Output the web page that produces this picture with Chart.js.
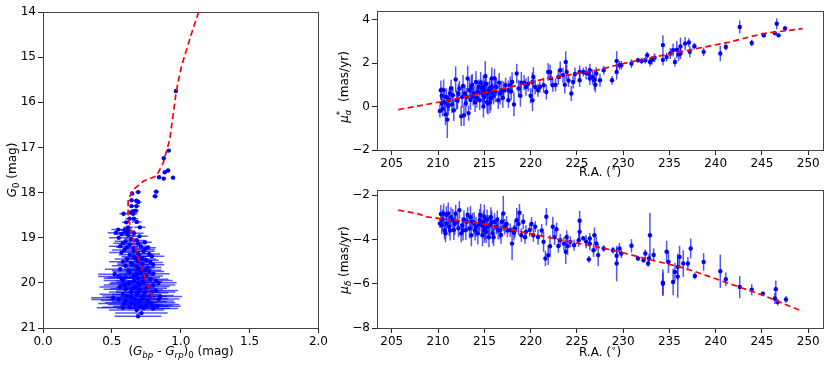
<!DOCTYPE html>
<html><head><meta charset="utf-8">
<script src="https://cdn.jsdelivr.net/npm/chart.js@4.4.1/dist/chart.umd.min.js"></script>
<style>
html,body{margin:0;padding:0;background:#fff;}
#wrap{position:relative;width:830px;height:369px;overflow:hidden;background:#fff;}
canvas{position:absolute;}
</style></head>
<body><div id="wrap">
<canvas id="c1" width="330" height="369" style="left:0;top:0"></canvas>
<canvas id="c2" width="500" height="185" style="left:330px;top:0"></canvas>
<canvas id="c3" width="500" height="189" style="left:330px;top:180px"></canvas>
</div>
<script>
// ---------- DATA ----------
// CMD: [colour (Gbp-Grp)0, G0, colour error]
const cmdStars = [
[0.965,15.75,0.01],[0.913,17.07,0.01],[0.877,17.24,0.01],[0.908,17.51,0.015],[0.884,17.55,0.01],[0.843,17.66,0.015],[0.877,17.69,0.01],[0.944,17.67,0.015],[0.822,17.98,0.02],[0.814,18.08,0.02],[0.647,18.02,0.015],[0.691,17.99,0.02],
[0.643,18.17,0.02],[0.679,18.18,0.02],[0.691,18.21,0.025],[0.643,18.30,0.02],[0.679,18.30,0.025],[0.655,18.41,0.025],[0.674,18.40,0.02],[0.64,18.44,0.03],[0.585,18.47,0.03],[0.655,18.47,0.03],[0.628,18.58,0.03],[0.66,18.58,0.03],[0.604,18.66,0.03],[0.681,18.65,0.035],[0.703,18.77,0.04],[0.618,18.77,0.035],[0.546,18.82,0.05],[0.594,18.83,0.04],[0.618,18.85,0.05],[0.53,18.89,0.06],[0.604,18.89,0.05],
[0.57,18.92,0.06],[0.62,18.95,0.05],[0.66,18.9,0.07],[0.7,18.97,0.06],[0.55,19.0,0.07],[0.64,19.03,0.05],[0.6,19.08,0.08],[0.68,19.06,0.06],[0.74,19.1,0.05],
[0.56,19.19,0.08],[0.71,19.19,0.07],[0.63,19.15,0.06],[0.66,19.24,0.07],[0.76,19.22,0.06],[0.59,19.27,0.09],[0.66,19.3,0.07],[0.73,19.3,0.08],[0.69,19.35,0.07],[0.63,19.38,0.08],[0.79,19.41,0.09],[0.7,19.41,0.08],
[0.61,19.47,0.09],[0.67,19.45,0.08],[0.75,19.5,0.09],[0.69,19.52,0.1],[0.64,19.56,0.1],[0.72,19.58,0.09],[0.8,19.6,0.08],[0.6,19.62,0.1],[0.68,19.64,0.11],[0.76,19.66,0.1],[0.56,19.7,0.11],[0.69,19.7,0.1],[0.74,19.72,0.12],
[0.63,19.76,0.12],[0.71,19.78,0.11],[0.8,19.8,0.12],[0.52,19.81,0.12],[0.66,19.83,0.13],[0.75,19.85,0.12],[0.55,19.86,0.15],[0.6,19.88,0.13],[0.69,19.9,0.12],[0.78,19.92,0.13],[0.58,19.95,0.14],[0.66,19.96,0.13],[0.73,19.98,0.14],[0.84,20.0,0.13],
[0.62,20.02,0.14],[0.7,20.04,0.15],[0.8,20.05,0.16],[0.56,20.09,0.15],[0.67,20.1,0.14],[0.75,20.12,0.15],[0.6,20.14,0.16],[0.7,20.16,0.17],[0.82,20.17,0.16],[0.64,20.2,0.16],[0.74,20.22,0.17],[0.58,20.25,0.17],[0.68,20.26,0.18],[0.78,20.28,0.17],
[0.51,20.33,0.16],[0.64,20.32,0.18],[0.72,20.35,0.19],[0.84,20.36,0.15],[0.6,20.39,0.18],[0.7,20.42,0.2],[0.78,20.44,0.18],[0.59,20.46,0.19],[0.67,20.48,0.2],[0.75,20.5,0.19],[0.83,20.52,0.17],[0.63,20.54,0.2],[0.73,20.56,0.19],[0.8,20.57,0.18],
[0.715,20.67,0.19],[0.69,20.74,0.17],
[0.58,19.12,0.07],[0.69,19.13,0.06],[0.61,19.21,0.08],[0.74,19.26,0.07],[0.57,19.33,0.09],[0.77,19.36,0.08],[0.66,19.42,0.09],[0.72,19.47,0.1],[0.58,19.53,0.1],[0.78,19.55,0.09],[0.65,19.6,0.11],[0.71,19.67,0.1],[0.62,19.73,0.12],[0.77,19.75,0.11],[0.68,19.8,0.13],[0.57,19.9,0.13],[0.73,19.88,0.12],[0.82,19.95,0.12],[0.63,19.99,0.14],[0.69,20.0,0.15],[0.76,20.08,0.16],[0.59,20.05,0.15],[0.65,20.13,0.16],[0.79,20.2,0.17],[0.69,20.21,0.16],[0.61,20.29,0.18],[0.73,20.3,0.17],[0.55,20.37,0.2],[0.67,20.37,0.19],[0.76,20.4,0.19],[0.64,20.44,0.19],[0.71,20.52,0.2],[0.58,20.55,0.19],[0.79,20.48,0.2],[0.68,20.6,0.2],[0.85,20.3,0.16]
];
// isochrone (red dashed)
const isoColor = [1.13,1.078,1.005,0.969,0.92,0.872,0.824,0.727,0.654,0.618,0.618,0.643,0.679,0.727,0.763,0.792];
const isoMag   = [14.0,14.48,15.21,15.73,16.83,17.35,17.63,17.75,17.94,18.16,18.53,18.89,19.33,19.77,20.07,20.31];

// proper motion in RA: [R.A., mu_alpha*, error]
const pmraStars = [
[210.2,-0.2,0.3],[210.3,0.75,0.45],[210.4,0.14,0.4],[210.6,0.75,0.5],[210.5,-0.1,0.35],[210.8,-0.36,0.5],[210.9,0.44,0.4],[211.0,-0.6,0.85],[211.1,0.05,0.45],[211.3,0.6,0.35],[211.4,0.83,0.4],[211.6,0.52,0.4],[211.7,-0.17,0.5],[211.9,1.25,0.6],[212.0,0.3,0.45],[212.1,0.29,0.4],[212.3,0.83,0.35],[212.5,-0.45,0.45],[212.6,0.44,0.5],[212.8,-0.4,0.5],[212.9,0.6,0.4],[213.0,0.14,0.45],[213.2,1.29,0.6],[213.3,-0.3,0.35],[213.4,0.75,0.5],[213.6,0.9,0.55],[213.8,0.45,0.4],[213.9,0.6,0.35],[214.0,0.2,0.45],[214.1,1.13,0.5],[214.3,0.67,0.45],[214.4,0.9,0.35],[214.5,0.29,0.45],[214.6,1.1,0.5],[214.7,0.83,0.4],[214.8,0.6,0.55],[214.9,0.0,0.5],[215.0,0.44,0.45],[215.1,1.4,0.7],[215.2,1.05,0.45],[215.3,0.2,0.5],[215.4,0.14,0.5],[215.5,0.75,0.4],[215.6,0.83,0.45],[215.7,0.38,0.55],[215.8,1.3,0.5],[215.9,0.67,0.4],[216.0,0.5,0.4],[216.1,1.29,0.45],[216.3,0.9,0.4],[216.5,0.29,0.4],[216.7,0.6,0.5],[216.9,0.75,0.45],[217.1,0.75,0.4],[217.3,0.98,0.35],[217.6,0.75,0.45],[217.6,0.29,0.35],[217.8,0.98,0.4],[218.0,1.13,0.45],[218.2,0.1,0.55],[218.5,1.52,0.45],[218.7,0.83,0.4],[219.0,1.1,0.5],[219.3,1.1,0.35],[219.75,1.05,0.35],[220.0,0.5,0.35],[220.2,1.13,0.45],[220.2,0.29,0.5],[220.3,1.36,0.45],[220.8,0.75,0.3],[221.0,0.9,0.25],[221.4,0.98,0.35],[221.7,0.67,0.35],[221.9,1.59,0.4],[222.1,1.59,0.35],[222.4,0.98,0.3],[222.7,1.0,0.3],[223.0,1.36,0.35],[223.2,1.67,0.4],[223.5,1.44,0.35],[223.8,2.05,0.5],[223.9,1.59,0.35],[224.1,1.2,0.3],[224.4,0.6,0.35],[224.6,1.13,0.3],[224.8,1.5,0.3],[225.3,1.59,0.3],[225.3,1.21,0.3],[225.7,1.59,0.2],[226.3,1.5,0.25],[226.4,1.67,0.3],[226.4,1.29,0.3],[226.7,1.36,0.35],[226.9,1.21,0.45],[227.0,1.0,0.35],[227.1,1.52,0.3],[227.5,1.21,0.3],[227.9,1.67,0.2],[228.8,1.21,0.2],[229.3,2.1,0.45],[229.3,1.59,0.35],[229.6,1.9,0.2],[229.8,1.9,0.2],[230.9,1.98,0.2],[231.6,2.13,0.1],[232.0,2.1,0.15],[232.4,2.13,0.15],[232.6,2.36,0.15],[232.9,2.05,0.2],[233.1,2.13,0.2],[233.4,2.25,0.2],[234.3,2.83,0.45],[234.3,2.15,0.25],[234.7,2.28,0.2],[235.1,2.44,0.25],[235.4,2.6,0.3],[235.6,2.05,0.2],[235.8,2.62,0.4],[236.0,2.4,0.3],[236.2,2.77,0.4],[236.2,2.44,0.25],[236.7,2.9,0.3],[237.1,2.95,0.2],[237.2,2.52,0.25],[237.7,2.78,0.15],[238.7,2.52,0.2],[240.5,2.44,0.35],[241.1,2.74,0.15],[242.6,3.66,0.3],[243.9,2.93,0.15],[245.2,3.28,0.1],[246.4,3.38,0.1],[246.6,3.81,0.25],[246.8,3.28,0.1],[247.5,3.6,0.12],
[210.4,0.5,0.4],[210.7,0.2,0.45],[211.2,0.3,0.5],[211.5,0.1,0.4],[212.2,0.6,0.45],[212.7,0.95,0.5],[213.1,0.45,0.4],[213.5,0.3,0.45],[213.7,1.0,0.5],[214.2,0.4,0.45],[214.9,0.9,0.5],[215.0,0.7,0.5],[215.3,0.6,0.45],[215.6,0.2,0.5],[215.8,0.9,0.4],[216.2,0.7,0.5],[216.6,1.1,0.45],[217.0,0.4,0.45],[217.9,0.7,0.4],[218.9,0.5,0.5],[219.5,0.9,0.4],[220.5,0.9,0.35],[222.2,1.3,0.35],[223.7,1.0,0.4],[226.0,1.55,0.3]
];
const pmraFitRA = [205.7,210.2,216.3,221.7,227.1,230.0,234.3,237.9,241.5,245.1,249.4];
const pmraFit   = [-0.14,0.21,0.75,1.29,1.67,1.98,2.36,2.67,2.97,3.36,3.59];

// proper motion in Dec: [R.A., mu_delta, error]
const pmdecStars = [
[210.2,-3.28,0.2],[210.3,-2.85,0.4],[210.4,-3.36,0.4],[210.6,-2.83,0.45],[210.7,-3.6,0.4],[210.8,-3.73,0.4],[210.9,-3.28,0.45],[211.1,-2.83,0.5],[211.2,-3.43,0.4],[211.4,-3.0,0.45],[211.6,-3.13,0.5],[211.7,-3.58,0.45],[211.9,-2.83,0.4],[212.1,-3.2,0.35],[212.3,-2.68,0.4],[212.5,-3.73,0.4],[212.6,-3.36,0.35],[212.8,-3.1,0.4],[213.0,-3.58,0.45],[213.2,-2.9,0.35],[213.4,-3.51,0.45],[213.6,-3.81,0.5],[213.7,-3.2,0.4],[213.9,-3.28,0.5],[214.1,-3.43,0.45],[214.3,-3.73,0.5],[214.5,-3.13,0.5],[214.6,-2.9,0.5],[214.7,-3.36,0.45],[214.8,-3.81,0.5],[215.0,-2.98,0.55],[215.1,-3.5,0.5],[215.2,-3.66,0.5],[215.3,-3.1,0.45],[215.5,-3.9,0.45],[215.6,-3.36,0.45],[215.8,-3.2,0.5],[215.9,-3.73,0.45],[216.1,-3.21,0.4],[216.3,-3.43,0.35],[216.5,-3.6,0.4],[216.7,-3.58,0.4],[216.9,-3.2,0.35],[217.05,-2.83,0.8],[217.2,-3.43,0.35],[217.5,-3.6,0.3],[217.8,-3.58,0.3],[218.0,-4.19,0.75],[218.3,-3.51,0.4],[218.5,-3.13,0.55],[218.8,-2.8,0.4],[219.0,-3.81,0.3],[219.2,-3.2,0.35],[219.5,-3.66,0.3],[219.9,-3.58,0.3],[220.3,-3.81,0.3],[220.5,-3.43,0.25],[220.8,-3.89,0.35],[221.2,-3.6,0.3],[221.4,-4.11,0.45],[221.6,-4.86,0.35],[221.7,-2.98,0.4],[221.9,-4.71,0.45],[222.1,-4.31,0.5],[222.4,-3.43,0.45],[222.8,-3.54,0.3],[223.0,-4.3,0.3],[223.2,-4.04,0.3],[223.6,-4.19,0.3],[223.8,-4.56,0.55],[223.9,-3.89,0.3],[224.3,-4.11,0.25],[224.7,-4.26,0.25],[225.2,-4.04,0.3],[225.3,-3.66,0.4],[225.3,-3.16,0.45],[225.7,-3.95,0.1],[226.3,-4.9,0.15],[226.4,-3.96,0.25],[226.4,-4.19,0.3],[226.8,-4.49,0.3],[226.9,-3.81,0.35],[227.1,-4.19,0.3],[227.3,-4.71,0.5],[227.9,-4.41,0.15],[228.9,-4.49,0.15],[229.3,-4.74,0.35],[229.3,-5.09,0.8],[229.6,-4.41,0.25],[229.8,-4.64,0.2],[230.9,-4.29,0.3],[231.6,-4.86,0.1],[232.2,-4.94,0.1],[232.4,-4.64,0.2],[232.7,-5.09,0.15],[232.8,-4.86,0.2],[232.9,-3.81,1.0],[233.3,-4.7,0.3],[234.3,-5.95,0.6],[234.3,-6.0,0.5],[234.7,-4.56,0.5],[234.9,-5.02,0.5],[235.4,-5.92,0.6],[235.6,-5.47,0.4],[235.9,-5.24,0.6],[235.9,-5.68,0.95],[236.1,-4.79,0.5],[236.5,-5.09,0.6],[237.0,-5.09,0.3],[237.3,-4.41,0.45],[237.75,-5.65,0.15],[238.7,-5.02,0.4],[240.5,-5.44,0.75],[241.1,-5.8,0.3],[242.6,-6.15,0.5],[243.9,-6.27,0.25],[245.1,-6.45,0.1],[246.4,-6.67,0.25],[246.5,-6.25,0.4],[246.7,-6.83,0.15],[247.6,-6.71,0.15],
[210.5,-3.1,0.45],[210.9,-2.9,0.4],[211.3,-3.6,0.45],[211.8,-3.3,0.5],[212.2,-3.5,0.4],[212.7,-3.6,0.45],[213.1,-3.2,0.4],[213.5,-3.0,0.5],[214.0,-3.6,0.45],[214.4,-3.3,0.5],[214.9,-3.2,0.5],[215.0,-3.6,0.55],[215.4,-3.4,0.5],[215.7,-3.0,0.45],[216.0,-3.9,0.4],[216.4,-3.1,0.4],[216.8,-3.8,0.4],[217.4,-3.3,0.35],[218.2,-3.7,0.35],[218.7,-3.3,0.5],[219.4,-3.9,0.3],[220.1,-3.3,0.3],[222.6,-3.9,0.35],[224.0,-4.3,0.4],[226.0,-4.1,0.3]
];
const pmdecFitRA = [205.7,207.7,208.8,210.2,214.5,218.1,221.7,225.3,228.9,232.5,236.1,237.9,241.5,245.1,249.4];
const pmdecFit   = [-2.68,-2.83,-2.98,-3.06,-3.28,-3.58,-3.89,-4.19,-4.49,-4.87,-5.24,-5.47,-6.0,-6.52,-7.25];

// tick values
const cmdColorTicks = [0,0.5,1.0,1.5,2.0];
const cmdMagTicks = [14,15,16,17,18,19,20,21];
const raTicks = [205,210,215,220,225,230,235,240,245,250];
const pmraTicks = [-2,0,2,4];
const pmdecTicks = [-8,-6,-4,-2];

// ---------- RENDERING ----------
const FONT = '"DejaVu Sans", "Liberation Sans", sans-serif';
const FS = 12;
const minus = v => (v < 0 ? '\u2212' + Math.abs(v) : String(v));

function richText(ctx, parts, cx, cy, rot) {
  const fontFor = p => (p.it ? 'italic ' : '') + ((p.sub || p.sup) ? FS * 0.72 : FS) + 'px ' + FONT;
  let w = 0;
  parts.forEach(p => { ctx.font = fontFor(p); p.w = ctx.measureText(p.t).width; if (!p.noadv) w += p.w; });
  ctx.save();
  ctx.translate(cx, cy);
  if (rot) ctx.rotate(-Math.PI / 2);
  ctx.fillStyle = '#000';
  ctx.textBaseline = 'middle';
  ctx.textAlign = 'left';
  let x = -w / 2;
  parts.forEach(p => {
    ctx.font = fontFor(p);
    const dy = p.sub ? FS * 0.3 : (p.sup ? -FS * 0.38 : 0);
    ctx.fillText(p.t, x, dy);
    if (!p.noadv) x += p.w;
  });
  ctx.restore();
}

const errPlugin = {
  id: 'errbars',
  beforeDatasetsDraw(chart) {
    const ctx = chart.ctx, xs = chart.scales.x, ys = chart.scales.y, a = chart.chartArea;
    ctx.save();
    ctx.beginPath(); ctx.rect(a.left, a.top, a.right - a.left, a.bottom - a.top); ctx.clip();
    chart.data.datasets.forEach(ds => {
      if (!ds.errDir) return;
      ctx.strokeStyle = 'rgba(0,0,255,0.68)';
      ctx.lineWidth = 1.5;
      ds.data.forEach(p => {
        ctx.beginPath();
        if (ds.errDir === 'x') {
          const y = ys.getPixelForValue(p.y);
          ctx.moveTo(xs.getPixelForValue(p.x - p.e), y);
          ctx.lineTo(xs.getPixelForValue(p.x + p.e), y);
        } else {
          const x = xs.getPixelForValue(p.x);
          ctx.moveTo(x, ys.getPixelForValue(p.y - p.e));
          ctx.lineTo(x, ys.getPixelForValue(p.y + p.e));
        }
        ctx.stroke();
      });
    });
    ctx.restore();
  }
};

const framePlugin = {
  id: 'frame',
  afterDraw(chart) {
    const ctx = chart.ctx, a = chart.chartArea;
    ctx.save();
    ctx.strokeStyle = '#444';
    ctx.lineWidth = 1;
    ctx.strokeRect(Math.round(a.left) + 0.5, Math.round(a.top) + 0.5, Math.round(a.right - a.left), Math.round(a.bottom - a.top));
    ctx.restore();
    const t = chart.options.plugins.titles;
    if (t) {
      richText(ctx, t.x.parts, t.x.cx, t.x.cy, false);
      richText(ctx, t.y.parts, t.y.cx, t.y.cy, true);
    }
  }
};

function axis(opts) {
  return {
    type: 'linear',
    min: opts.min, max: opts.max, reverse: !!opts.reverse,
    afterBuildTicks: s => { s.ticks = opts.ticks.map(v => ({ value: v })); },
    afterFit: s => { if (opts.w !== undefined) s.width = opts.w; if (opts.h !== undefined) s.height = opts.h; },
    grid: { display: true, drawOnChartArea: false, drawTicks: true, tickLength: 5, tickColor: '#222', tickWidth: 1 },
    border: { display: false },
    ticks: { color: '#000', font: { family: FONT, size: FS }, padding: 2, maxRotation: 0, autoSkip: false, callback: opts.fmt },
    title: { display: false }
  };
}

function makeChart(id, stars, errDir, lineX, lineY, xs, ys, pad, titles) {
  const pts = stars.map(s => ({ x: s[0], y: s[1], e: s[2] }));
  const line = lineX.map((v, i) => ({ x: v, y: lineY[i] }));
  return new Chart(document.getElementById(id), {
    type: 'scatter',
    data: {
      datasets: [
        { data: pts, errDir: errDir, pointRadius: 2.2, pointBackgroundColor: '#0000ff', pointBorderWidth: 0, order: 2 },
        { data: line, showLine: true, borderColor: '#ff0000', borderWidth: 1.7, borderDash: [6, 3.5], pointRadius: 0, fill: false, order: 1 }
      ]
    },
    options: {
      responsive: false, animation: false, devicePixelRatio: 1,
      layout: { padding: pad },
      plugins: { legend: { display: false }, tooltip: { enabled: false }, titles: titles },
      scales: { x: axis(xs), y: axis(ys) }
    },
    plugins: [errPlugin, framePlugin]
  });
}

const raTitle = [{ t: 'R.A. (' }, { t: '\u2218', sup: true }, { t: ')' }];

// Left: colour-magnitude diagram
makeChart('c1', cmdStars, 'x', isoColor, isoMag,
  { min: 0, max: 2, ticks: cmdColorTicks, h: 41, fmt: v => v.toFixed(1) },
  { min: 14, max: 21, reverse: true, ticks: cmdMagTicks, w: 43, fmt: v => String(v) },
  { top: 12, right: 10, left: 0, bottom: 0 },
  {
    x: { cx: 181, cy: 352, parts: [{ t: '(' }, { t: 'G', it: true }, { t: 'bp', it: true, sub: true }, { t: ' - ' }, { t: 'G', it: true }, { t: 'rp', it: true, sub: true }, { t: ')' }, { t: '0', sub: true }, { t: ' (mag)' }] },
    y: { cx: 13, cy: 170, parts: [{ t: 'G', it: true }, { t: '0', sub: true }, { t: ' (mag)' }] }
  });

// Top right: mu_alpha* vs RA
makeChart('c2', pmraStars, 'y', pmraFitRA, pmraFit,
  { min: 203.4, max: 251.6, ticks: raTicks, h: 35, fmt: v => String(v) },
  { min: -2, max: 4.4, ticks: pmraTicks, w: 47, fmt: minus },
  { top: 11, right: 7, left: 0, bottom: 0 },
  {
    x: { cx: 270, cy: 173, parts: raTitle },
    y: { cx: 15, cy: 87, parts: [{ t: '\u03bc', it: true }, { t: '*', sup: true, noadv: true }, { t: '\u03b1', it: true, sub: true }, { t: '  (mas/yr)' }] }
  });

// Bottom right: mu_delta vs RA
makeChart('c3', pmdecStars, 'y', pmdecFitRA, pmdecFit,
  { min: 203.4, max: 251.6, ticks: raTicks, h: 41, fmt: v => String(v) },
  { min: -8, max: -1.77, ticks: pmdecTicks, w: 47, fmt: minus },
  { top: 10, right: 7, left: 0, bottom: 0 },
  {
    x: { cx: 270, cy: 173, parts: raTitle },
    y: { cx: 15, cy: 80, parts: [{ t: '\u03bc', it: true }, { t: '\u03b4', it: true, sub: true }, { t: ' (mas/yr)' }] }
  });
</script>
</body></html>
